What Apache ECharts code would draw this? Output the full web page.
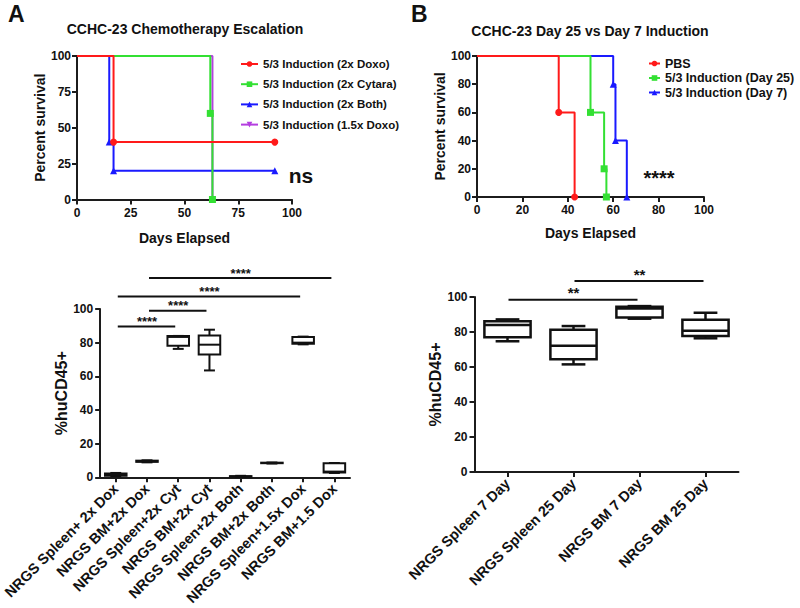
<!DOCTYPE html>
<html><head><meta charset="utf-8">
<script src="https://cdn.jsdelivr.net/npm/echarts@6.0.0/dist/echarts.min.js"></script>
<style>html,body{margin:0;padding:0;background:#fff}#c{width:800px;height:608px}</style>
</head><body><div id="c"></div>
<script>
// ---------- DATA ----------
const kmA_names = ['5/3 Induction (2x Doxo)','5/3 Induction (2x Cytara)','5/3 Induction (2x Both)','5/3 Induction (1.5x Doxo)'];
const kmA_doxo2  = [[0,100],[17,40],[92,40]];
const kmA_cyt2   = [[0,100],[62,60],[63,0]];
const kmA_both2  = [[0,100],[15,40],[17,20],[92,20]];
const kmA_doxo15 = [[0,100],[63,0]];

const kmB_names = ['PBS','5/3 Induction (Day 25)','5/3 Induction (Day 7)'];
const kmB_pbs   = [[0,100],[36,60],[43,0]];
const kmB_day25 = [[0,100],[50,60],[56,20],[57,0]];
const kmB_day7  = [[0,100],[60,80],[61,40],[66,0]];

const boxC_cats = ['NRGS Spleen+ 2x Dox','NRGS BM+2x Dox','NRGS Spleen+2x Cyt','NRGS BM+2x Cyt','NRGS Spleen+2x Both','NRGS BM+2x Both','NRGS Spleen+1.5x Dox','NRGS BM+1.5 Dox'];
// [min, q1, median, q3, max]
const boxC_stats = [
  [0.6, 0.9, 1.5, 2.2, 2.6],
  [8.9, 9.2, 9.5, 9.9, 10.1],
  [76.3, 78.2, 83.4, 84.0, 84.0],
  [63.5, 72.9, 78.8, 84.3, 87.7],
  [0.2, 0.4, 0.5, 0.7, 0.9],
  [8.2, 8.4, 8.5, 8.7, 8.8],
  [79.0, 79.3, 80.0, 83.3, 83.6],
  [2.6, 2.9, 3.4, 8.3, 8.5]
];
const sigC_pairs  = [[0,2],[1,3],[0,6],[1,7]];
const sigC_levels = [89.6, 99, 107.5, 118.4];
const sigC_labels = ['****','****','****','****'];

const boxD_cats = ['NRGS Spleen 7 Day','NRGS Spleen 25 Day','NRGS BM 7 Day','NRGS BM 25 Day'];
const boxD_stats = [
  [74.7, 77.0, 84.0, 86.2, 87.2],
  [61.5, 64.4, 72.2, 81.3, 83.4],
  [87.6, 88.3, 93.5, 94.5, 94.8],
  [76.4, 77.7, 80.7, 87.0, 91.0]
];
const sigD_pairs  = [[0,2],[1,3]];
const sigD_levels = [98.5, 109.1];
const sigD_labels = ['**','**'];

// ---------- STYLE ----------
const FONT = '"Liberation Sans", Arial, Helvetica, sans-serif';
const INK = '#111';
const AX = '#1c1c1c';
const C_RED = '#ff1a1a', C_GREEN = '#33e033', C_BLUE = '#1a1aff', C_PURPLE = '#b43ee0';

function km(data){ return data.map((p,i)=> i===0 ? {value:p, symbol:'none'} : p); }

function axisCommon(){
  return {
    axisLine:{show:true, onZero:false, lineStyle:{color:AX, width:2}},
    axisTick:{show:true, length:5, lineStyle:{color:AX, width:2}},
    splitLine:{show:false},
    axisLabel:{color:INK, fontFamily:FONT, fontWeight:'bold', fontSize:12},
    nameTextStyle:{color:INK, fontFamily:FONT, fontWeight:'bold', fontSize:14}
  };
}
function valAxis(grid, interval, name, gap, margin, isY){
  const a = axisCommon();
  a.type='value'; a.gridIndex=grid; a.min=0; a.max=100; a.interval=interval;
  a.name=name; a.nameLocation='middle'; a.nameGap=gap;
  a.axisLabel.margin=margin;
  if(isY && grid>=2){ a.nameTextStyle.fontSize=16; }
  return a;
}
function catAxis(grid, cats, fontSize){
  const a = axisCommon();
  a.type='category'; a.gridIndex=grid; a.data=cats;
  a.axisTick.alignWithLabel=true;
  a.axisLabel.rotate=45; a.axisLabel.interval=0; a.axisLabel.margin=9; a.axisLabel.fontSize=fontSize;
  return a;
}

function lineSeries(name, data, color, symbol, rot, xi){
  return {
    type:'line', name:name, xAxisIndex:xi, yAxisIndex:xi, step:'end',
    data:km(data), symbol:symbol, symbolSize:7, symbolRotate:rot||0, showAllSymbol:true,
    lineStyle:{color:color, width:2}, itemStyle:{color:color}, color:color,
    emphasis:{disabled:true}, animation:false, clip:false
  };
}

function boxSeries(stats, ai, widthRatio, capRatio, lw){
  return {
    type:'custom', xAxisIndex:ai, yAxisIndex:ai, clip:false, animation:false,
    data: stats.map((s,i)=>[i].concat(s)),
    encode:{x:0, y:[1,2,3,4,5]},
    renderItem:function(params, api){
      const x = api.value(0);
      const pMin = api.coord([x, api.value(1)]);
      const pQ1  = api.coord([x, api.value(2)]);
      const pMed = api.coord([x, api.value(3)]);
      const pQ3  = api.coord([x, api.value(4)]);
      const pMax = api.coord([x, api.value(5)]);
      const band = api.size([1,0])[0];
      const hw = band*widthRatio/2, cw = band*capRatio/2, cx = pMed[0];
      const st = ()=>({stroke:INK, fill:'none', lineWidth:lw});
      return {type:'group', children:[
        {type:'line', shape:{x1:cx,y1:pMax[1],x2:cx,y2:pQ3[1]}, style:st()},
        {type:'line', shape:{x1:cx,y1:pMin[1],x2:cx,y2:pQ1[1]}, style:st()},
        {type:'line', shape:{x1:cx-cw,y1:pMax[1],x2:cx+cw,y2:pMax[1]}, style:st()},
        {type:'line', shape:{x1:cx-cw,y1:pMin[1],x2:cx+cw,y2:pMin[1]}, style:st()},
        {type:'rect', shape:{x:cx-hw,y:pQ3[1],width:2*hw,height:Math.max(pQ1[1]-pQ3[1],0.5)}, style:st()},
        {type:'line', shape:{x1:cx-hw,y1:pMed[1],x2:cx+hw,y2:pMed[1]}, style:st()}
      ]};
    }
  };
}

function sigSeries(pairs, levels, labels, ai, fontSize, textOff, s0, s1){
  return {
    type:'custom', xAxisIndex:ai, yAxisIndex:ai, clip:false, animation:false,
    data: pairs.map((p,i)=>[p[0], p[1], levels[i]]),
    encode:{x:[0,1], y:2},
    renderItem:function(params, api){
      const a = api.coord([api.value(0), api.value(2)]);
      const b = api.coord([api.value(1), api.value(2)]);
      return {type:'group', children:[
        {type:'line', shape:{x1:a[0]+s0, y1:a[1], x2:b[0]-s1, y2:b[1]}, style:{stroke:INK, lineWidth:2}},
        {type:'text', x:(a[0]+b[0])/2, y:a[1]-textOff,
          style:{text:labels[params.dataIndex], fill:INK, font:'bold '+fontSize+'px '+FONT, textAlign:'center', textVerticalAlign:'middle'}}
      ]};
    }
  };
}

const legendText = (fs)=>({color:INK, fontFamily:FONT, fontWeight:'bold', fontSize:fs});
function legendB(name, top){
  return {data:[name], orient:'vertical', left:648, top:top, itemWidth:11, itemHeight:7, padding:0,
          textStyle:legendText(12.5), selectedMode:false};
}

const option = {
  backgroundColor:'#fff',
  animation:false,
  grid:[
    {left:77, top:56, width:215, height:143.5},
    {left:477, top:56, width:227, height:141},
    {left:97, top:309, width:253, height:170},
    {left:474.5, top:297, width:264, height:175}
  ],
  xAxis:[
    valAxis(0, 25, 'Days Elapsed', 31, 7, false),
    valAxis(1, 20, 'Days Elapsed', 29, 7, false),
    catAxis(2, boxC_cats, 14.5),
    catAxis(3, boxD_cats, 14.5)
  ],
  yAxis:[
    valAxis(0, 25, 'Percent survival', 25, 6, true),
    valAxis(1, 20, 'Percent survival', 25, 6, true),
    valAxis(2, 20, '%huCD45+', 30, 7, true),
    valAxis(3, 20, '%huCD45+', 30, 7, true)
  ],
  legend:[
    {data:kmA_names, orient:'vertical', left:240, top:58, itemWidth:17, itemHeight:7, itemGap:8.2, padding:0,
     textStyle:legendText(11.5), selectedMode:false},
    legendB(kmB_names[0], 57),
    legendB(kmB_names[1], 71.5),
    legendB(kmB_names[2], 86)
  ],
  graphic:[
    {type:'text', left:8, top:2, style:{text:'A', font:'bold 23px '+FONT, fill:INK}},
    {type:'text', left:411, top:2, style:{text:'B', font:'bold 23px '+FONT, fill:INK}},
    {type:'text', x:185, y:29, style:{text:'CCHC-23 Chemotherapy Escalation', font:'bold 14px '+FONT, fill:INK, textAlign:'center', textVerticalAlign:'middle'}},
    {type:'text', x:590, y:31, style:{text:'CCHC-23 Day 25 vs Day 7 Induction', font:'bold 14px '+FONT, fill:INK, textAlign:'center', textVerticalAlign:'middle'}},
    {type:'text', x:301, y:175, style:{text:'ns', font:'bold 21px '+FONT, fill:INK, textAlign:'center', textVerticalAlign:'middle'}},
    {type:'text', x:659, y:178, style:{text:'****', font:'bold 20px '+FONT, fill:INK, textAlign:'center', textVerticalAlign:'middle'}}
  ],
  series:[
    lineSeries(kmA_names[3], kmA_doxo15, C_PURPLE, 'triangle', 180, 0),
    lineSeries(kmA_names[2], kmA_both2, C_BLUE, 'triangle', 0, 0),
    lineSeries(kmA_names[1], kmA_cyt2, C_GREEN, 'rect', 0, 0),
    lineSeries(kmA_names[0], kmA_doxo2, C_RED, 'circle', 0, 0),
    lineSeries(kmB_names[2], kmB_day7, C_BLUE, 'triangle', 0, 1),
    lineSeries(kmB_names[1], kmB_day25, C_GREEN, 'rect', 0, 1),
    lineSeries(kmB_names[0], kmB_pbs, C_RED, 'circle', 0, 1),
    boxSeries(boxC_stats, 2, 0.69, 0.35, 2),
    sigSeries(sigC_pairs, sigC_levels, sigC_labels, 2, 13, 5, 2, 3),
    boxSeries(boxD_stats, 3, 0.70, 0.36, 2.5),
    sigSeries(sigD_pairs, sigD_levels, sigD_labels, 3, 15, 7, 1, 2)
  ]
};

const chart = echarts.init(document.getElementById('c'), null, {renderer:'svg', width:800, height:608});
chart.setOption(option);
</script></body></html>
